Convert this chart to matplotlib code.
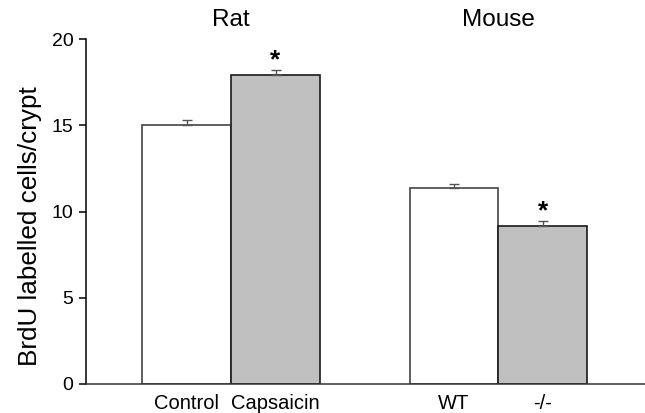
import matplotlib
matplotlib.use("Agg")
import matplotlib.pyplot as plt
import matplotlib.transforms as mtransforms

plt.rcParams['font.family'] = ['Liberation Sans', 'DejaVu Sans']

# Data
groups = ["Rat", "Mouse"]
categories = ["Control", "Capsaicin", "WT", "-/-"]
values = [15.0, 17.9, 11.35, 9.17]
errors = [0.3, 0.3, 0.23, 0.27]
significant = [False, True, False, True]
yticks = [0, 5, 10, 15, 20]

# Layout
positions = [0, 1, 3.01, 4.01]
group_centers = [0.5, 3.51]
fills = ["white", "#c0c0c0", "white", "#c0c0c0"]
edges = ["#444444", "#1a1a1a", "#444444", "#1a1a1a"]

fig = plt.figure(figsize=(6.45, 4.13), dpi=100)
ax = fig.add_axes([0.1333, 0.0707, 0.8667, 0.8341])

for x, v, e, fc, ec in zip(positions, values, errors, fills, edges):
    ax.bar(x, v, width=1.0, color=fc, edgecolor=ec, linewidth=1.2, zorder=2)
    ax.errorbar(x, v, yerr=[[0], [e]], fmt='none', ecolor='#555555',
                elinewidth=1.0, capsize=3.8, capthick=1.0, zorder=3)

for x, v, e, s in zip(positions, values, errors, significant):
    if s:
        ax.text(x, v + e - 0.1, "*", ha='center', va='bottom',
                fontsize=19, fontweight='bold', color='black')

ax.set_xlim(-1.135, 5.16)
ax.set_ylim(0, 20)
ax.set_yticks(yticks)
ax.set_yticklabels([str(t) for t in yticks], fontsize=14)
ax.set_xticks(positions)
ax.set_xticklabels(categories, fontsize=14.5)
ax.tick_params(axis='x', length=0, pad=7)
ax.tick_params(axis='y', direction='out', length=5, width=1.1, pad=4)

for sp in ['top', 'right']:
    ax.spines[sp].set_visible(False)
for sp in ['left', 'bottom']:
    ax.spines[sp].set_linewidth(1.1)
ax.spines['bottom'].set_color('#333333')

trans = mtransforms.blended_transform_factory(ax.transData, fig.transFigure)
for g, c in zip(groups, group_centers):
    ax.text(c, 0.9516, g, transform=trans, ha='center', va='center', fontsize=17.5)

fig.text(0.046, 0.452, "BrdU labelled cells/crypt", rotation=90,
         ha='center', va='center', fontsize=18.8)

fig.savefig("out.png", dpi=100)
